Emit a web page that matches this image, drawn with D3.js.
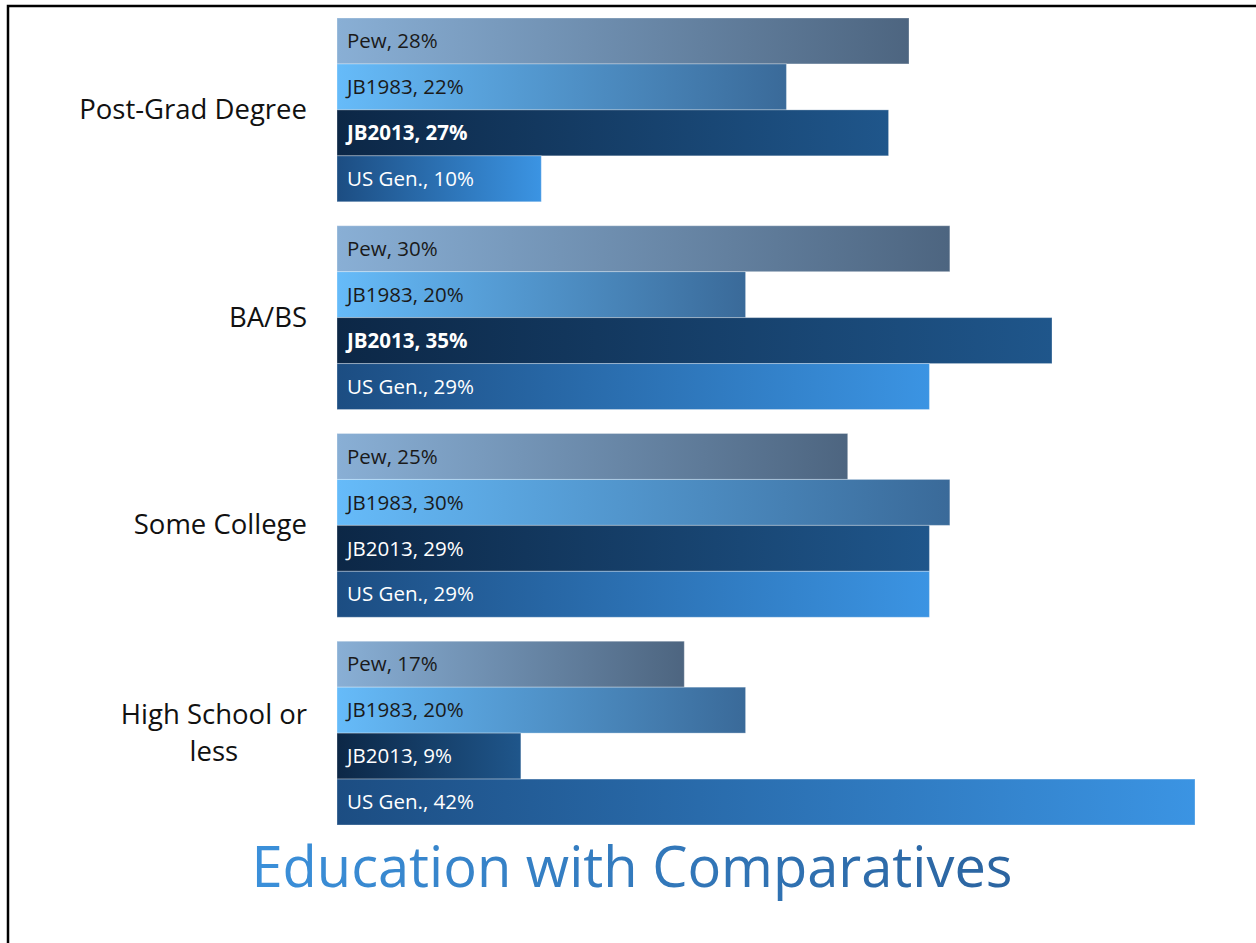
<!DOCTYPE html>
<html>
<head>
<meta charset="utf-8">
<script src="https://cdn.jsdelivr.net/npm/d3@7"></script>
<style>
  html, body { margin: 0; padding: 0; background: #ffffff; }
  svg { display: block; }
</style>
</head>
<body>
<svg id="chart" width="1256" height="943"></svg>
<script>
// Education levels, top to bottom
const categories = [["Post-Grad Degree"], ["BA/BS"], ["Some College"], ["High School or", "less"]];
// Comparison sources within each level
const seriesNames = ["Pew", "JB1983", "JB2013", "US Gen."];
// Percentages per source, in category order
const pewValues = [28, 30, 25, 17];
const jb1983Values = [22, 20, 30, 20];
const jb2013Values = [27, 35, 29, 9];
const usGenValues = [10, 29, 29, 42];
const chartTitle = "Education with Comparatives";

const seriesValues = [pewValues, jb1983Values, jb2013Values, usGenValues];

const svg = d3.select("#chart");
const W = 1256, H = 943;
const font = "'Open Sans', 'Noto Sans', sans-serif";

// Per-source horizontal gradients (applied across each bar's own width)
const gradients = {
  "Pew":     ["#89afd5", "#4d6580"],
  "JB1983":  ["#66bbf9", "#3a6a99"],
  "JB2013":  ["#0c2746", "#1f568b"],
  "US Gen.": ["#1c4d82", "#3b94e3"]
};
const labelStyle = {
  "Pew":     { fill: "#1a1a1a" },
  "JB1983":  { fill: "#1a1a1a" },
  "JB2013":  { fill: "#ffffff" },
  "US Gen.": { fill: "#ffffff" }
};

const defs = svg.append("defs");
seriesNames.forEach((s, i) => {
  const g = defs.append("linearGradient")
    .attr("id", "grad" + i)
    .attr("x1", "0%").attr("x2", "100%").attr("y1", "0%").attr("y2", "0%");
  g.append("stop").attr("offset", "0%").attr("stop-color", gradients[s][0]);
  g.append("stop").attr("offset", "100%").attr("stop-color", gradients[s][1]);
});
const tg = defs.append("linearGradient")
  .attr("id", "titleGrad")
  .attr("x1", "0%").attr("x2", "100%").attr("y1", "0%").attr("y2", "0%");
tg.append("stop").attr("offset", "0%").attr("stop-color", "#3b90da");
tg.append("stop").attr("offset", "100%").attr("stop-color", "#2b64a0");

// Frame lines along the top and left edges
svg.append("path")
  .attr("d", `M8,${H} L8,6 L${W},6`)
  .attr("fill", "none")
  .attr("stroke", "#000")
  .attr("stroke-width", 2.5);

// Scales
const x = d3.scaleLinear().domain([0, 42]).range([337, 1195]);
const y0 = d3.scaleBand()
  .domain(d3.range(categories.length))
  .range([18, 825])
  .paddingInner(24 / 208)
  .paddingOuter(0);
const y1 = d3.scaleBand()
  .domain(seriesNames)
  .range([0, y0.bandwidth()])
  .padding(0);

const groups = svg.selectAll("g.group")
  .data(categories.map((c, ci) => ({
    ci,
    lines: c,
    bars: seriesNames.map((s, si) => ({ s, si, v: seriesValues[si][ci], ci }))
  })))
  .join("g")
  .attr("class", "group")
  .attr("transform", d => `translate(0,${y0(d.ci)})`);

groups.selectAll("rect")
  .data(d => d.bars)
  .join("rect")
  .attr("x", x(0))
  .attr("y", d => y1(d.s))
  .attr("width", d => x(d.v) - x(0))
  .attr("height", y1.bandwidth())
  .attr("fill", d => `url(#grad${d.si})`)
  .attr("stroke", "#ffffff")
  .attr("stroke-opacity", 0.3)
  .attr("stroke-width", 1);

groups.selectAll("text.val")
  .data(d => d.bars)
  .join("text")
  .attr("class", "val")
  .attr("x", x(0) + 10)
  .attr("y", d => y1(d.s) + y1.bandwidth() / 2)
  .attr("dy", "0.35em")
  .attr("font-family", font)
  .attr("font-size", 20.5)
  .attr("font-weight", d => (d.s === "JB2013" && d.ci < 2) ? 700 : 400)
  .attr("fill", d => labelStyle[d.s].fill)
  .text(d => `${d.s}, ${d.v}%`);

// Category labels: right-aligned, multi-line blocks centred on their widest line
groups.each(function(d) {
  const g = d3.select(this);
  const lh = 37;
  const cy = y0.bandwidth() / 2 + 9;
  const top = cy - (d.lines.length - 1) * lh / 2;
  const texts = d.lines.map((line, li) => g.append("text")
    .attr("y", top + li * lh)
    .attr("font-family", font)
    .attr("font-size", 27.5)
    .attr("fill", "#111")
    .text(line));
  const widths = texts.map(t => t.node().getComputedTextLength());
  const maxW = d3.max(widths);
  const right = 307;
  const center = right - maxW / 2;
  texts.forEach(t => t.attr("x", center).attr("text-anchor", "middle"));
});

// Title
svg.append("text")
  .attr("x", 632)
  .attr("y", 887)
  .attr("text-anchor", "middle")
  .attr("font-family", font)
  .attr("font-size", 56)
  .attr("fill", "url(#titleGrad)")
  .text(chartTitle);
</script>
</body>
</html>
